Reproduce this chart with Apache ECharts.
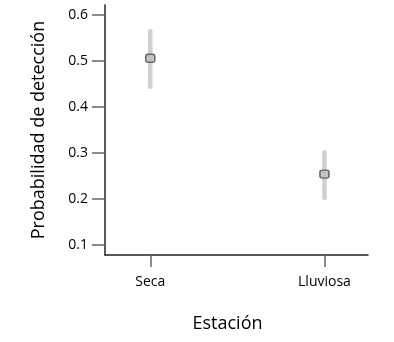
<!DOCTYPE html>
<html><head><meta charset="utf-8">
<script src="https://cdn.jsdelivr.net/npm/echarts@6/dist/echarts.min.js"></script>
<style>html,body{margin:0;padding:0;background:#fff}#c{width:394px;height:342px}</style>
</head><body><div id="c"></div>
<script>
const categories = ['Seca', 'Lluviosa'];
const catPositions = [1, 2];
const means = [0.506, 0.254];
const lower = [0.444, 0.202];
const upper = [0.565, 0.301];
const yTicks = [0.1, 0.2, 0.3, 0.4, 0.5, 0.6];

const font = '"Open Sans", Lato, sans-serif';
const chart = echarts.init(document.getElementById('c'), null, {renderer: 'canvas'});
chart.setOption({
  animation: false,
  grid: {left: 105, right: 26, top: 5, bottom: 87},
  xAxis: {
    type: 'value', min: 0.74, max: 2.25,
    name: 'Estación', nameLocation: 'middle', nameGap: 60,
    nameTextStyle: {fontFamily: font, fontSize: 18, color: '#000', padding: [0, 18, 0, 0]},
    axisLine: {show: true, lineStyle: {color: '#222', width: 1.5}},
    axisTick: {show: true, inside: false, length: 12, customValues: catPositions, lineStyle: {color: '#666', width: 1.5}},
    axisLabel: {customValues: catPositions, margin: 20, fontFamily: font, fontSize: 14, color: '#000',
      formatter: v => categories[catPositions.indexOf(Math.round(v))] || ''},
    splitLine: {show: false}
  },
  yAxis: {
    type: 'value', min: 0.078, max: 0.622,
    name: 'Probabilidad de detección', nameLocation: 'middle', nameGap: 57,
    nameTextStyle: {fontFamily: font, fontSize: 18, color: '#000'},
    axisLine: {show: true, lineStyle: {color: '#222', width: 1.5}},
    axisTick: {show: true, length: 13, customValues: yTicks, lineStyle: {color: '#666', width: 1.5}},
    axisLabel: {customValues: yTicks, margin: 17, fontFamily: font, fontSize: 14, color: '#000',
      formatter: v => v.toFixed(1)},
    splitLine: {show: false}
  },
  series: [
    {
      type: 'custom',
      data: catPositions.map((x, i) => [x, lower[i], upper[i]]),
      renderItem: (params, api) => {
        const p1 = api.coord([api.value(0), api.value(1)]);
        const p2 = api.coord([api.value(0), api.value(2)]);
        return {type: 'line', shape: {x1: p1[0], y1: p1[1], x2: p2[0], y2: p2[1]},
          style: {stroke: '#d0d0d0', lineWidth: 4.5, lineCap: 'round'}};
      },
      z: 2
    },
    {
      type: 'scatter',
      data: catPositions.map((x, i) => [x, means[i]]),
      symbol: 'roundRect', symbolSize: [9, 8],
      itemStyle: {color: '#bdbdbd', borderColor: '#4a4a4a', borderWidth: 1.5},
      z: 3
    }
  ]
});
</script></body></html>
